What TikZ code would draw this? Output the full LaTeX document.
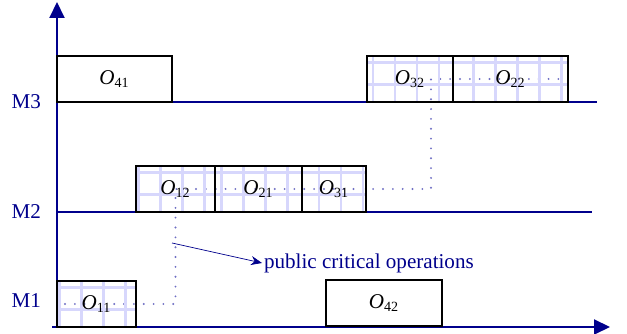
\documentclass[tikz,border=0pt]{standalone}
\usepackage{fontspec}
\setmainfont{Liberation Serif}
\usepackage{tikz}
\usetikzlibrary{arrows.meta,positioning,backgrounds}
\definecolor{axisblue}{RGB}{0,0,140}
\definecolor{linkblue}{RGB}{110,110,195}
\definecolor{gridblue}{RGB}{215,215,252}
\newcommand{\opn}[1]{\textit{O}\textsubscript{#1}}

\begin{document}
\begin{tikzpicture}[thin, font=\large,
    axis/.style = {draw=axisblue, line width=1.1pt},
    job/.style = {draw=black, line width=0.6pt, minimum height=0.92cm, inner sep=0pt, outer sep=0pt},
    critical/.style = {job, path picture={\draw[gridblue, line width=1.4pt, step=0.44cm] (path picture bounding box.south west) grid (path picture bounding box.north east);}},
    link/.style = {draw=linkblue, line width=1.2pt, line cap=round, dash pattern=on 0pt off 5.6pt},
    mlabel/.style = {text=axisblue, inner sep=1pt, anchor=east}]
    \useasboundingbox (-1.14,-0.14) rectangle (11.4,6.54);

    % machines and time axis
    \draw[axis, -{Triangle[length=0.32cm, width=0.3cm]}] (0,-0.02) -- (0,6.5);
    \draw[axis, -{Triangle[length=0.32cm, width=0.3cm]}] (-0.1,0) -- (11.06,0);
    \draw[axis] (0,4.5) -- (10.8,4.5);
    \draw[axis] (0,2.3) -- (10.7,2.3);
    \node[mlabel] (m3) at (-0.28,4.5) {M3};
    \node[mlabel] (m2) at (-0.28,2.3) {M2};
    \node[mlabel] (m1) at (-0.28,0.52) {M1};

    % operations
    \node[job, minimum width=2.3cm, anchor=south west] (o41) at (0,4.5) {\opn{41}};
    \node[critical, minimum width=1.72cm, anchor=south west] (o32) at (6.2,4.5) {\opn{32}};
    \node[critical, minimum width=2.3cm, right=0pt of o32] (o22) {\opn{22}};
    \node[critical, minimum width=1.58cm, anchor=south west] (o12) at (1.58,2.3) {\opn{12}};
    \node[critical, minimum width=1.74cm, right=0pt of o12] (o21) {\opn{21}};
    \node[critical, minimum width=1.28cm, right=0pt of o21] (o31) {\opn{31}};
    \node[critical, minimum width=1.58cm, anchor=south west] (o11) at (0,0) {\opn{11}};
    \node[job, minimum width=2.32cm, anchor=south west] (o42) at (5.38,0.02) {\opn{42}};

    % critical path
    \coordinate[right=0.42cm of o32.center] (turn);
    \coordinate[left=0.16cm of o22.east] (stop);
    \begin{scope}[on background layer]
      \draw[link] ([xshift=0.16cm]o11.west) -| (o12.center) -- (o12.center -| turn) |- (stop);
    \end{scope}

    \coordinate (tap) at (2.3,1.68);
    \node[text=axisblue, inner sep=1pt, anchor=west] (pub) at (4.1,1.28) {public critical operations};
    \draw[axisblue, -{Stealth[length=2.2mm, width=1.8mm]}] (tap) -- (pub.west);
\end{tikzpicture}
\end{document}
